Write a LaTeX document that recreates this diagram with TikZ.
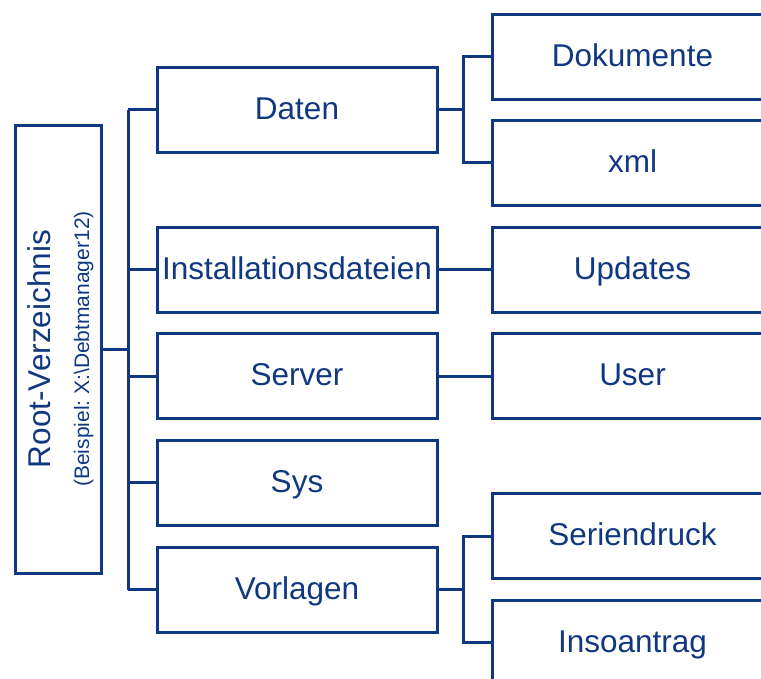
\documentclass[tikz,border=0pt]{standalone}
\usepackage{fontspec}
\setmainfont{Liberation Sans}
\frenchspacing
\definecolor{navy}{RGB}{16,56,128}
\tikzset{
  box/.style={draw=navy, line width=3pt, rectangle, text=navy, inner sep=0pt,
    font=\fontsize{31.5}{36}\selectfont},
  lvlone/.style={box, minimum width=280pt, minimum height=85pt, text height=22.6pt, text depth=3pt},
  lvltwo/.style={box, minimum width=281pt, minimum height=85pt, text height=22.6pt, text depth=3pt},
  conn/.style={draw=navy, line width=3pt}
}
\begin{document}
\begin{tikzpicture}[x=1pt,y=-1pt]
\useasboundingbox (0,0) rectangle (761,678);
\clip (0,0) rectangle (761,678);
\node[box, minimum width=86pt, minimum height=448pt] (root) at (58,349)
  {\hspace*{9pt}\rotatebox{90}{\begin{tabular}{@{}c@{}}Root-Verzeichnis\\[3pt]{\fontsize{21}{24}\selectfont (Beispiel: X:\textbackslash Debtmanager12)}\end{tabular}}};
\node[lvlone] (daten) at (297,109.5) {Daten};
\node[lvlone] (inst) at (297,269.5) {Installationsdateien};
\node[lvlone] (server) at (297,376) {Server};
\node[lvlone] (sys) at (297,482.5) {Sys};
\node[lvlone] (vorl) at (297,589.5) {Vorlagen};
\node[lvltwo] (dok) at (632.5,56.5) {Dokumente};
\node[lvltwo] (xml) at (632.5,162.5) {xml};
\node[lvltwo] (upd) at (632.5,269.5) {Updates};
\node[lvltwo] (user) at (632.5,376) {User};
\node[lvltwo] (serien) at (632.5,536) {Seriendruck};
\node[lvltwo] (inso) at (632.5,642.5) {Insoantrag};
\coordinate (busT) at (128,109.5);
\coordinate (busB) at (128,589.5);
\coordinate (dj) at (463,109.5);
\coordinate (vj) at (463,589.5);
\draw[conn] (busT) -- (busB);
\draw[conn] (root.east) -- (root.east -| busT);
\foreach \n in {daten,inst,server,sys,vorl}
  \draw[conn] (\n.west) -- (\n.west -| busT);
\draw[conn] (daten.east) -- (dj);
\draw[conn] (dok.west) -| (dj) |- (xml.west);
\draw[conn] (vorl.east) -- (vj);
\draw[conn] (serien.west) -| (vj) |- (inso.west);
\draw[conn] (inst.east) -- (upd.west);
\draw[conn] (server.east) -- (user.west);
\end{tikzpicture}
\end{document}
